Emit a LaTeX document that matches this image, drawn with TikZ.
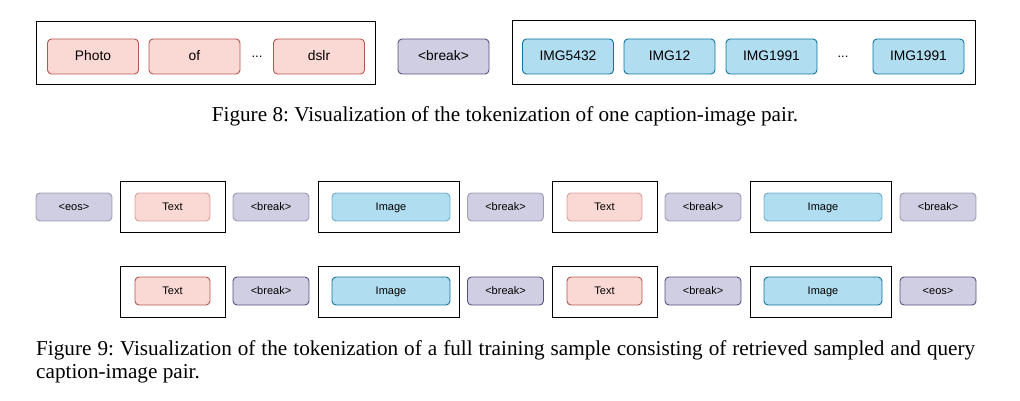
\documentclass[tikz,border=0pt]{standalone}
\usepackage{fontspec}
\setmainfont{Liberation Serif}
\newfontfamily\tokfont{Liberation Sans}
\definecolor{txtfill}{HTML}{FAD9D5}
\definecolor{txtline}{HTML}{B85450}
\definecolor{brkfill}{HTML}{D0CEE2}
\definecolor{brkline}{HTML}{56517E}
\definecolor{imgfill}{HTML}{B1DDF0}
\definecolor{imgline}{HTML}{10739E}
\frenchspacing
\begin{document}
\begin{tikzpicture}[x=1pt,y=-1pt,
    tok/.style={rectangle,rounded corners=4pt,draw,line width=0.9pt,inner sep=0pt,text height=0.72em,text depth=0pt},
    big/.style={tok,minimum width=91pt,minimum height=35pt,font=\tokfont\fontsize{13.8}{16}\selectfont},
    small/.style={tok,minimum height=28pt,font=\tokfont\fontsize{11}{13}\selectfont},
    txt/.style={fill=txtfill,draw=txtline},
    brk/.style={fill=brkfill,draw=brkline},
    img/.style={fill=imgfill,draw=imgline},
    faded/.style={draw opacity=0.5},
    frame/.style={rectangle,draw,line width=1pt,inner sep=0pt},
    figcap/.style={font=\fontsize{21.2}{23.5}\selectfont,inner sep=0pt}]
    \useasboundingbox (0,0) rectangle (1020,401);
    % figure 8
    \node at (205.5,53.5) [frame,minimum width=339pt,minimum height=63pt] (f1) {};
    \node at (743.5,53) [frame,minimum width=463pt,minimum height=64pt] (f2) {};
    \node at (93,56.5) [big,txt] (w1) {Photo};
    \node at (194.5,56.5) [big,txt] (w2) {of};
    \node at (257,56.5) [font=\tokfont\fontsize{13}{15}\selectfont] (wd) {...};
    \node at (319,56.5) [big,txt] (w3) {dslr};
    \node at (443.5,56.5) [big,brk] (b0) {<break>};
    \node at (568,56.5) [big,img] (i1) {IMG5432};
    \node at (669.5,56.5) [big,img] (i2) {IMG12};
    \node at (771.5,56.5) [big,img] (i3) {IMG1991};
    \node at (843,56.5) [font=\tokfont\fontsize{13}{15}\selectfont] (id) {...};
    \node at (918.5,56.5) [big,img] (i4) {IMG1991};
    \node at (505,122) [figcap,anchor=base] (c8) {Figure 8: Visualization of the tokenization of one caption-image pair.};
    % figure 9, first row
    \node at (172.5,206.5) [frame,minimum width=105pt,minimum height=51pt] (ft1) {};
    \node at (388.5,206.5) [frame,minimum width=141pt,minimum height=51pt] (fi1) {};
    \node at (604.5,206.5) [frame,minimum width=105pt,minimum height=51pt] (ft2) {};
    \node at (820.5,206.5) [frame,minimum width=141pt,minimum height=51pt] (fi2) {};
    \node at (74,207) [small,brk,faded,minimum width=76pt] (e1) {<eos>};
    \node at (172.5,207) [small,txt,faded,minimum width=75pt] (t1) {Text};
    \node at (271,207) [small,brk,faded,minimum width=76pt] (b1) {<break>};
    \node at (391,207) [small,img,faded,minimum width=118pt] (m1) {Image};
    \node at (505.5,207) [small,brk,faded,minimum width=76pt] (b2) {<break>};
    \node at (604.5,207) [small,txt,faded,minimum width=75pt] (t2) {Text};
    \node at (703,207) [small,brk,faded,minimum width=76pt] (b3) {<break>};
    \node at (823,207) [small,img,faded,minimum width=118pt] (m2) {Image};
    \node at (938,207) [small,brk,faded,minimum width=76pt] (b4) {<break>};
    % figure 9, second row
    \node at (172.5,291.5) [frame,minimum width=105pt,minimum height=51pt] (ft3) {};
    \node at (388.5,291.5) [frame,minimum width=141pt,minimum height=51pt] (fi3) {};
    \node at (604.5,291.5) [frame,minimum width=105pt,minimum height=51pt] (ft4) {};
    \node at (820.5,291.5) [frame,minimum width=141pt,minimum height=51pt] (fi4) {};
    \node at (172.5,291) [small,txt,minimum width=75pt] (t3) {Text};
    \node at (271,291) [small,brk,minimum width=76pt] (b5) {<break>};
    \node at (391,291) [small,img,minimum width=118pt] (m3) {Image};
    \node at (505.5,291) [small,brk,minimum width=76pt] (b6) {<break>};
    \node at (604.5,291) [small,txt,minimum width=75pt] (t4) {Text};
    \node at (703,291) [small,brk,minimum width=76pt] (b7) {<break>};
    \node at (823,291) [small,img,minimum width=118pt] (m4) {Image};
    \node at (938,291) [small,brk,minimum width=76pt] (e2) {<eos>};
    \node at (36,355) [figcap,anchor=base west,text width=939pt,align=justify] (c9) {Figure 9: Visualization of the tokenization of a full training sample consisting of retrieved sampled and query\linebreak caption-image pair.};
\end{tikzpicture}
\end{document}
